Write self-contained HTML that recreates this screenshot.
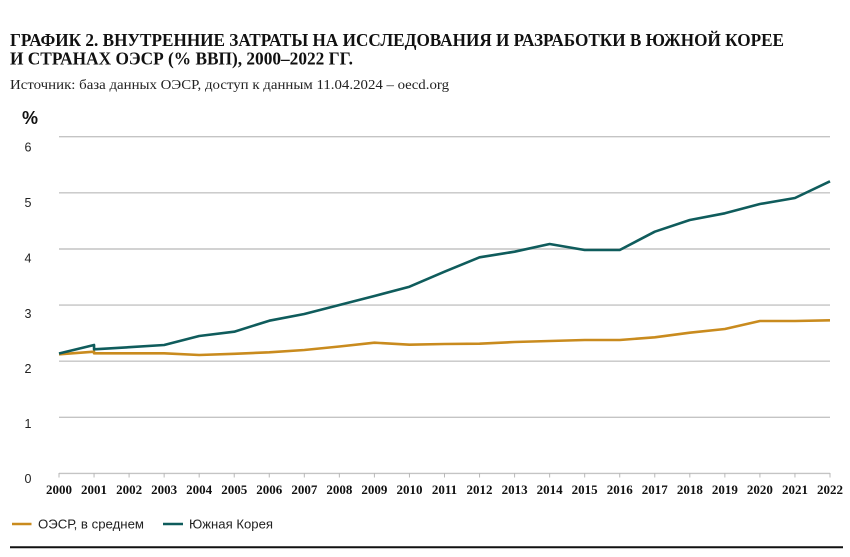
<!DOCTYPE html>
<html>
<head>
<meta charset="utf-8">
<style>
html,body{margin:0;padding:0;background:#fff;}
svg{display:block;}
</style>
</head>
<body>
<svg width="850" height="557" viewBox="0 0 850 557" xmlns="http://www.w3.org/2000/svg">
<rect width="850" height="557" fill="#fff"/>
<!-- Title -->
<g font-family="'Liberation Serif', serif" fill="#111">
<text x="10" y="46" font-size="18" font-weight="bold" textLength="774" lengthAdjust="spacingAndGlyphs">ГРАФИК 2. ВНУТРЕННИЕ ЗАТРАТЫ НА ИССЛЕДОВАНИЯ И РАЗРАБОТКИ В ЮЖНОЙ КОРЕЕ</text>
<text x="10" y="64.7" font-size="18" font-weight="bold" textLength="343" lengthAdjust="spacingAndGlyphs">И СТРАНАХ ОЭСР (% ВВП), 2000–2022 ГГ.</text>
<text x="10" y="89" font-size="14" fill="#222" textLength="439" lengthAdjust="spacingAndGlyphs">Источник: база данных ОЭСР, доступ к данным 11.04.2024 – oecd.org</text>
</g>
<!-- % label -->
<text x="22" y="124" font-family="'Liberation Sans', sans-serif" font-size="18" font-weight="bold" fill="#111">%</text>
<!-- gridlines -->
<g stroke="#c4c4c4" stroke-width="1.4">
<line x1="59" x2="830" y1="136.7" y2="136.7"/>
<line x1="59" x2="830" y1="192.8" y2="192.8"/>
<line x1="59" x2="830" y1="249" y2="249"/>
<line x1="59" x2="830" y1="305.1" y2="305.1"/>
<line x1="59" x2="830" y1="361.2" y2="361.2"/>
<line x1="59" x2="830" y1="417.3" y2="417.3"/>
<line x1="59" x2="830" y1="473.4" y2="473.4"/>
</g>
<!-- ticks -->
<g stroke="#b8b8b8" stroke-width="1">
<line x1="59" x2="59" y1="473" y2="477.5"/>
<line x1="94.05" x2="94.05" y1="473" y2="477.5"/>
<line x1="129.09" x2="129.09" y1="473" y2="477.5"/>
<line x1="164.14" x2="164.14" y1="473" y2="477.5"/>
<line x1="199.18" x2="199.18" y1="473" y2="477.5"/>
<line x1="234.23" x2="234.23" y1="473" y2="477.5"/>
<line x1="269.27" x2="269.27" y1="473" y2="477.5"/>
<line x1="304.32" x2="304.32" y1="473" y2="477.5"/>
<line x1="339.36" x2="339.36" y1="473" y2="477.5"/>
<line x1="374.41" x2="374.41" y1="473" y2="477.5"/>
<line x1="409.45" x2="409.45" y1="473" y2="477.5"/>
<line x1="444.5" x2="444.5" y1="473" y2="477.5"/>
<line x1="479.55" x2="479.55" y1="473" y2="477.5"/>
<line x1="514.59" x2="514.59" y1="473" y2="477.5"/>
<line x1="549.64" x2="549.64" y1="473" y2="477.5"/>
<line x1="584.68" x2="584.68" y1="473" y2="477.5"/>
<line x1="619.73" x2="619.73" y1="473" y2="477.5"/>
<line x1="654.77" x2="654.77" y1="473" y2="477.5"/>
<line x1="689.82" x2="689.82" y1="473" y2="477.5"/>
<line x1="724.86" x2="724.86" y1="473" y2="477.5"/>
<line x1="759.91" x2="759.91" y1="473" y2="477.5"/>
<line x1="794.95" x2="794.95" y1="473" y2="477.5"/>
<line x1="830" x2="830" y1="473" y2="477.5"/>
</g>
<!-- y labels -->
<g font-family="'Liberation Sans', sans-serif" font-size="12.5" fill="#222" text-anchor="middle">
<text x="28" y="151.5">6</text>
<text x="28" y="207">5</text>
<text x="28" y="262.5">4</text>
<text x="28" y="318">3</text>
<text x="28" y="373">2</text>
<text x="28" y="428">1</text>
<text x="28" y="483">0</text>
</g>
<!-- x labels -->
<g font-family="'Liberation Serif', serif" font-size="13" font-weight="bold" fill="#111" text-anchor="middle">
<text x="59" y="494">2000</text>
<text x="94.05" y="494">2001</text>
<text x="129.09" y="494">2002</text>
<text x="164.14" y="494">2003</text>
<text x="199.18" y="494">2004</text>
<text x="234.23" y="494">2005</text>
<text x="269.27" y="494">2006</text>
<text x="304.32" y="494">2007</text>
<text x="339.36" y="494">2008</text>
<text x="374.41" y="494">2009</text>
<text x="409.45" y="494">2010</text>
<text x="444.5" y="494">2011</text>
<text x="479.55" y="494">2012</text>
<text x="514.59" y="494">2013</text>
<text x="549.64" y="494">2014</text>
<text x="584.68" y="494">2015</text>
<text x="619.73" y="494">2016</text>
<text x="654.77" y="494">2017</text>
<text x="689.82" y="494">2018</text>
<text x="724.86" y="494">2019</text>
<text x="759.91" y="494">2020</text>
<text x="794.95" y="494">2021</text>
<text x="830" y="494">2022</text>
</g>
<!-- OECD series -->
<polyline fill="none" stroke="#c98b1e" stroke-width="2.6" stroke-linejoin="round"
points="59,354.3 94.05,351.7 94.05,353.3 129.09,353.3 164.14,353.3 199.18,355 234.23,353.8 269.27,352.3 304.32,350 339.36,346.5 374.41,342.7 409.45,344.7 444.5,344 479.55,343.7 514.59,342 549.64,341 584.68,340 619.73,340 654.77,337.3 689.82,332.7 724.86,329 759.91,321 794.95,321 830,320.3"/>
<!-- Korea series -->
<polyline fill="none" stroke="#0f5c5c" stroke-width="2.6" stroke-linejoin="round"
points="59,353.5 94.05,345 94.05,349.3 129.09,347.2 164.14,345 199.18,336 234.23,331.7 269.27,320.7 304.32,314 339.36,305 374.41,296 409.45,286.7 444.5,271.7 479.55,257.3 514.59,251.7 549.64,244 584.68,250 619.73,250 654.77,231.7 689.82,220 724.86,213.3 759.91,204 794.95,198 830,181.3"/>
<!-- legend -->
<line x1="12" x2="31.5" y1="524" y2="524" stroke="#c98b1e" stroke-width="2.6"/>
<text x="38" y="528.5" font-family="'Liberation Sans', sans-serif" font-size="13" fill="#222" textLength="106" lengthAdjust="spacingAndGlyphs">ОЭСР, в среднем</text>
<line x1="163" x2="183" y1="524" y2="524" stroke="#0f5c5c" stroke-width="2.6"/>
<text x="189" y="528.5" font-family="'Liberation Sans', sans-serif" font-size="13" fill="#222" textLength="84" lengthAdjust="spacingAndGlyphs">Южная Корея</text>
<!-- bottom rule -->
<line x1="10" x2="843" y1="547.3" y2="547.3" stroke="#111" stroke-width="2"/>
</svg>
</body>
</html>
